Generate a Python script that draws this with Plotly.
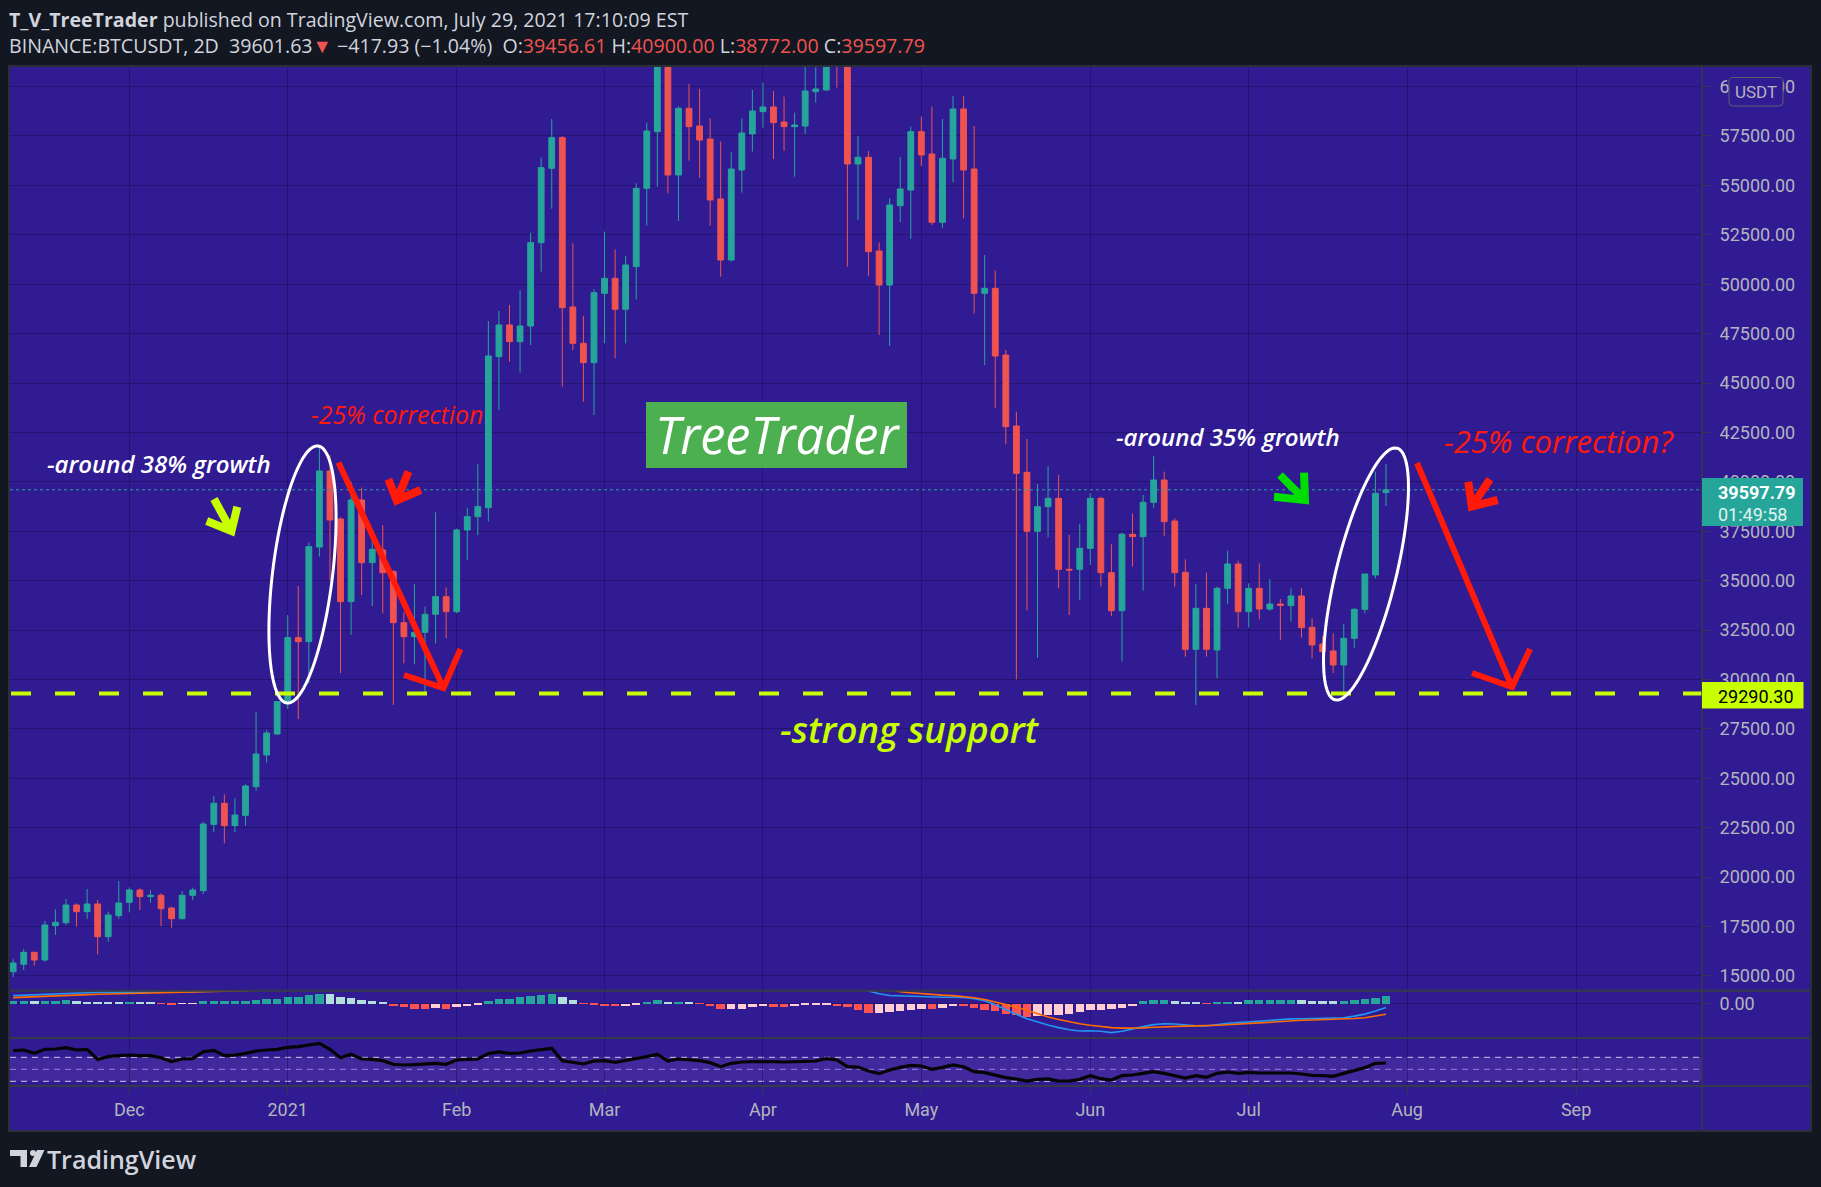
import math
import pandas as pd
import plotly.graph_objects as go

# ------------------------------------------------------------------ data
bar_start = "2020-11-10"          # first 2D bar shown
bar_step = "2D"

opens = [15215, 15586, 16193, 15805, 17543, 17695, 18588, 18251, 18639, 16986,
         18048, 18723, 19348, 19010, 19078, 18436, 17897, 19078, 19314, 22670,
         23733, 22603, 23126, 24576, 26179, 27241, 28844, 32116, 31914, 36700,
         40549, 38120, 33938, 39082, 35911, 36552, 35456, 32875, 32167, 32386,
         33297, 34190, 33432, 37564, 38239, 38694, 46334, 47937, 47094, 47886,
         52103, 55864, 57416, 48848, 47010, 46031, 49539, 50298, 48730, 50889,
         54852, 57720, 61200, 55527, 58900, 58006, 57348, 54312, 51226, 55780,
         57602, 58731, 58967, 58208, 57973, 58006, 59744, 59828, 63100, 61400,
         56084, 56421, 51681, 49961, 53970, 54768, 57720, 56590, 53132, 56337,
         58866, 55831, 49539, 49792, 46418, 42826, 40482, 37500, 38744, 39166,
         35573, 35573, 36636, 39166, 35405, 33482, 37345, 37227, 38964, 40094,
         38019, 35422, 31526, 33600, 31492, 34612, 35843, 33431, 34612, 33566,
         33819, 33735, 34224, 32639, 31796, 31441, 30733, 32082, 33549, 35287,
         39456.61]
highs = [15842, 16362, 16230, 17779, 18369, 18892, 18672, 19398, 18841, 18251,
         19803, 19482, 19432, 19348, 19179, 18500, 19297, 19466, 22805, 24104,
         24188, 23986, 24694, 28355, 27443, 28911, 33263, 34730, 36924, 41780,
         41358, 38200, 40009, 39706, 37395, 37817, 35540, 33398, 34815, 33684,
         38458, 34663, 37648, 38694, 40886, 48139, 48646, 48949, 49708, 52609,
         56404, 58361, 57500, 52069, 48392, 49742, 52660, 51765, 51428, 55105,
         58174, 61800, 61700, 59000, 60132, 59878, 58394, 57213, 56674, 58394,
         59828, 60199, 59777, 59490, 58681, 60975, 60975, 64854, 63800, 62500,
         57500, 56741, 52120, 54346, 56438, 57973, 58479, 58985, 58360, 59524,
         59524, 58006, 51479, 50686, 46672, 43551, 42168, 39890, 40802, 40347,
         37311, 37868, 39419, 39250, 36839, 37429, 38407, 39335, 41308, 40516,
         38154, 36080, 34831, 35405, 34696, 36518, 36012, 34865, 35877, 35067,
         34072, 34612, 34612, 33094, 32200, 32335, 32807, 33600, 35337, 40516,
         40900.00]
lows = [14946, 15300, 15519, 15721, 17071, 17577, 17493, 17881, 16092, 16733,
        17881, 18217, 18335, 18706, 17526, 17442, 17850, 18841, 19145, 22265,
        21709, 22265, 22603, 24374, 25790, 27191, 28507, 27999, 29805, 36215,
        35034, 30311, 32251, 34275, 33718, 33347, 28709, 30817, 30766, 29215,
        31829, 32082, 33347, 36046, 37300, 37990, 43636, 46081, 45525, 46925,
        50636, 53823, 44816, 46672, 44057, 43383, 47009, 46250, 47009, 49236,
        52963, 54937, 54599, 53199, 56252, 55392, 52963, 50382, 51142, 54633,
        56708, 57922, 56336, 56758, 55443, 57618, 59187, 59794, 59946, 50888,
        53250, 50416, 47430, 46874, 53149, 52289, 55983, 52997, 52862, 55156,
        53334, 48527, 45913, 43720, 41898, 30000, 33500, 31100, 37200, 34612,
        33263, 34022, 35793, 34696, 33212, 30901, 35708, 34494, 38660, 37260,
        34696, 31154, 28709, 31154, 30058, 33820, 32622, 32622, 33043, 33465,
        32010, 32926, 32116, 31070, 30901, 30311, 29299, 31610, 33347, 35118,
        38772.00]
closes = [15654, 16193, 15805, 17577, 17712, 18588, 18251, 18639, 16986, 18082,
          18690, 19348, 19010, 19078, 18403, 17897, 19078, 19348, 22687, 23733,
          22603, 23143, 24610, 26229, 27292, 28877, 32116, 31914, 36721, 40549,
          38070, 33938, 39082, 35911, 36586, 35405, 32875, 32167, 32386, 33297,
          34190, 33432, 37564, 38239, 38745, 46368, 47937, 47094, 47886, 52103,
          55898, 57416, 48814, 47010, 46031, 49573, 50298, 48730, 50973, 54852,
          57753, 61200, 55527, 58900, 57973, 57298, 54262, 51226, 55830, 57652,
          58765, 58967, 58175, 57973, 58057, 59777, 59878, 63100, 61400, 56084,
          56421, 51647, 49961, 54009, 54818, 57720, 56539, 53132, 56370, 58866,
          55780, 49539, 49792, 46368, 42792, 40431, 37500, 38744, 39166, 35573,
          35540, 36636, 39166, 35405, 33482, 37345, 37227, 38964, 40094, 37986,
          35405, 31526, 33600, 31526, 34612, 35843, 33431, 34612, 33566, 33819,
          33752, 34224, 32622, 31745, 31407, 30733, 32082, 33549, 35337, 39419,
          39597.79]

macd_hist = [250,
             267, 250, 267, 280, 400, 233, 200, 167, 160, 150,
             200, 190, 160, -30, -50, -30, -10, 233, 267, 270,
             275, 280, 333, 433, 440, 667, 670, 833, 933, 920,
             667, 600, 400, 267, 133, -233, -333, -500, -567, -433,
             -567, -333, -233, -100, 233, 500, 510, 667, 767, 833,
             933, 667, 333, -30, -133, -233, -240, -200, -133, 200,
             333, 200, 210, 100, -30, -233, -567, -500, -490, -333,
             -233, -333, -340, -233, -167, -160, -100, -233, -333, -667,
             -933, -920, -833,
             -733, -600, -500, -567, -433, -233, -240, -433, -600, -767,
             -1000, -1167, -1333, -1233, -1167, -1100, -1000, -833, -667, -660,
             -567, -433, -233, 267, 333, 340, 233, 100, 90, -20,
             100, 200, 190, 333, 335, 340, 345, 350, 330, 233,
             230, 225, 267, 333, 433, 600, 733]

macd_line = ([770, 800, 830, 860, 900, 950, 1000, 1050, 1100, 1130,
              1140, 1130, 1110, 1100, 1100, 1110, 1130, 1150, 1170, 1190,
              1200, 1220, 1250, 1300, 1500]
             + [None] * 55
             + [1500, 1200, 950, 780,
                733, 690, 650, 610, 600, 600, 580, 450, 250, -150,
                -650, -1100, -1550, -1900, -2180, -2430, -2650, -2770, -2740, -2800,
                -2930, -2800, -2550, -2330, -2130, -2050, -2070, -2170, -2240, -2270,
                -2130, -2000, -1930, -1850, -1780, -1670, -1580, -1560, -1550, -1530,
                -1520, -1510, -1450, -1280, -1080, -780, -430])
signal_line = ([567, 600, 640, 680, 733, 780, 820, 870, 910, 933,
                950, 970, 990, 1000, 1010, 1030, 1060, 1090, 1120, 1170,
                1200, 1230, 1267, 1300, 1500]
               + [None] * 58
               + [1400,
                  1167, 1050, 950, 880, 820, 770, 700, 560, 380, 150,
                  -100, -380, -700, -1050, -1370, -1620, -1850, -2050, -2200, -2330,
                  -2430, -2480, -2500, -2460, -2400, -2340, -2300, -2280, -2260, -2250,
                  -2200, -2150, -2080, -2010, -1930, -1850, -1780, -1740, -1700, -1670,
                  -1640, -1600, -1570, -1520, -1440, -1300, -1100])

rsi = [81.1,
       82.2, 76.6, 83.3, 83.9, 86.1, 82.2, 83.3, 66.6, 71.1, 72.8,
       73.9, 72.8, 72.8, 69.4, 62.8, 67.2, 67.8, 79.4, 81.6, 72.8,
       73.9, 76.6, 80.5, 82.2, 83.3, 86.6, 87.8, 90.5, 93.3, 83.3,
       69.4, 75.0, 67.2, 66.6, 64.4, 58.3, 57.2, 57.8, 58.9, 60.0,
       58.3, 65.5, 66.6, 67.2, 76.1, 78.9, 76.6, 77.2, 80.5, 83.3,
       85.0, 64.4, 61.1, 58.9, 63.9, 64.4, 61.6, 64.4, 68.3, 71.1,
       75.0, 63.9, 67.2, 65.5, 64.4, 61.1, 54.4, 60.0, 62.2, 62.8,
       63.3, 62.8, 62.2, 62.2, 63.3, 63.9, 67.8, 65.5, 54.4, 53.9,
       47.2, 42.8, 48.9,
       53.3, 56.6, 55.5, 50.0, 53.3, 57.2, 54.4, 46.1, 44.4, 40.5,
       36.1, 33.9, 30.5, 33.3, 33.9, 30.5, 30.5, 33.3, 39.4, 34.4,
       32.2, 39.4, 40.5, 43.3, 46.1, 43.3, 39.4, 35.5, 39.4, 36.6,
       43.3, 45.5, 43.3, 45.0, 43.9, 43.9, 43.3, 43.9, 42.2, 40.0,
       39.4, 38.3, 43.3, 47.8, 52.8, 60.0, 60.5]
rsi_levels = [70, 50, 30]

month_ticks = ["2020-12-02", "2021-01-01", "2021-02-02", "2021-03-02", "2021-04-01",
               "2021-05-01", "2021-06-02", "2021-07-02", "2021-08-01", "2021-09-02"]
month_labels = ["Dec", "2021", "Feb", "Mar", "Apr", "May", "Jun", "Jul", "Aug", "Sep"]

support_level = 29290.30
last_price = 39597.79
countdown = "01:49:58"

# ------------------------------------------------------------------ layout constants
W, H = 1821, 1187
PL, PR, PT, PB = 10, 1702, 67, 1086
MAIN_BOTTOM, MACD_BOTTOM = 990.7, 1038

BG = "#311b92"
PAGE = "#131722"
UP, DOWN = "#26a69a", "#ef5350"
GRID = "rgba(18,8,60,0.38)"
AXIS_TXT = "#b2b5be"
DIV = "#363a48"
YEL = "#c8ff00"
RED_DRAW = "#ff1a0a"
WHITE = "#ffffff"


def PX(x):
    return (x - PL) / (PR - PL)


def PY(y):
    return (PB - y) / (PB - PT)


def pt(x, y):
    return f"{PX(x):.5f},{PY(y):.5f}"


dates = pd.date_range(bar_start, periods=len(opens), freq=bar_step)

hist_colors = []
prev = None
for v in macd_hist:
    if v >= 0:
        hist_colors.append("#26a69a" if (prev is None or v >= prev) else "#b2dfdb")
    else:
        hist_colors.append("#ff5252" if (prev is not None and v < prev) else "#ffcdd2")
    prev = v

fig = go.Figure()
fig.add_trace(go.Candlestick(
    x=dates, open=opens, high=highs, low=lows, close=closes,
    xaxis="x", yaxis="y", whiskerwidth=0,
    increasing=dict(line=dict(color=UP, width=1), fillcolor=UP),
    decreasing=dict(line=dict(color=DOWN, width=1), fillcolor=DOWN),
    hoverinfo="skip", showlegend=False))
fig.add_trace(go.Bar(
    x=dates, y=macd_hist, marker=dict(color=hist_colors, line=dict(width=0)),
    width=0.8 * 2 * 86400000, xaxis="x", yaxis="y2", hoverinfo="skip", showlegend=False))
fig.add_trace(go.Scatter(
    x=dates, y=macd_line, mode="lines", line=dict(color="#2196f3", width=1.6),
    connectgaps=False, xaxis="x", yaxis="y2", hoverinfo="skip", showlegend=False))
fig.add_trace(go.Scatter(
    x=dates, y=signal_line, mode="lines", line=dict(color="#ff6d00", width=1.6),
    connectgaps=False, xaxis="x", yaxis="y2", hoverinfo="skip", showlegend=False))
fig.add_trace(go.Scatter(
    x=dates, y=rsi, mode="lines", line=dict(color="#050505", width=3.2),
    xaxis="x", yaxis="y3", hoverinfo="skip", showlegend=False))

shapes = []
# purple panel behind axes
shapes.append(dict(type="rect", xref="paper", yref="paper", x0=PX(9), x1=PX(1811),
                   y0=PY(1131), y1=PY(66), fillcolor=BG, line=dict(width=0), layer="below"))
# RSI band
shapes.append(dict(type="rect", xref="paper", yref="y3", x0=0, x1=1, y0=rsi_levels[2], y1=rsi_levels[0],
                   fillcolor="rgba(126,87,194,0.22)", line=dict(width=0), layer="below"))
for lv, col in zip(rsi_levels, ["rgba(215,215,235,0.9)", "rgba(160,140,225,0.9)", "rgba(215,215,235,0.9)"]):
    shapes.append(dict(type="line", xref="paper", yref="y3", x0=0, x1=1, y0=lv, y1=lv,
                       line=dict(color=col, width=1, dash="6px,5px"), layer="below"))
# last price dotted line
shapes.append(dict(type="line", xref="paper", yref="y", x0=0, x1=1, y0=last_price, y1=last_price,
                   line=dict(color=UP, width=1, dash="dot"), layer="above"))
# support line
shapes.append(dict(type="line", xref="paper", yref="y", x0=PX(11), x1=1, y0=support_level, y1=support_level,
                   line=dict(color=YEL, width=4, dash="20px,24px"), layer="above"))


def ellipse_path(cx, cy, a, b, tilt_deg):
    th = math.radians(tilt_deg)
    ux, uy = math.sin(th), -math.cos(th)
    vx, vy = math.cos(th), math.sin(th)
    pts = []
    for i in range(96):
        t = 2 * math.pi * i / 96
        pts.append(pt(cx + a * math.cos(t) * ux + b * math.sin(t) * vx,
                      cy + a * math.cos(t) * uy + b * math.sin(t) * vy))
    return "M " + " L ".join(pts) + " Z"


shapes.append(dict(type="path", xref="paper", yref="paper", path=ellipse_path(302.5, 574.5, 129.5, 30, 6.9),
                   line=dict(color=WHITE, width=3), layer="above"))
shapes.append(dict(type="path", xref="paper", yref="paper", path=ellipse_path(1366, 574, 129.6, 30, 13.8),
                   line=dict(color=WHITE, width=3), layer="above"))


def arrow(start, tip, h1, h2, color, width):
    p = f"M {pt(*start)} L {pt(*tip)} M {pt(*h1)} L {pt(*tip)} L {pt(*h2)}"
    return dict(type="path", xref="paper", yref="paper", path=p,
                line=dict(color=color, width=width), layer="above")


shapes.append(arrow((338.5, 462.5), (443.5, 688), (404, 675), (460.5, 649), RED_DRAW, 6))
shapes.append(arrow((1417, 463), (1512, 687), (1472, 673), (1530, 649), RED_DRAW, 6))
shapes.append(arrow((408.5, 471.5), (396.7, 500.5), (388.3, 479.3), (420.7, 490), RED_DRAW, 8))
shapes.append(arrow((1490, 479.3), (1471.7, 506.5), (1468.3, 481.7), (1497.7, 500), RED_DRAW, 8))
shapes.append(arrow((1280, 475), (1305, 500), (1274, 496.7), (1304, 472.7), "#00dd00", 8))
shapes.append(arrow((214, 499), (231.5, 531), (206.7, 521), (237.3, 506.7), YEL, 8))

# TreeTrader box
shapes.append(dict(type="rect", xref="paper", yref="paper", x0=PX(646), x1=PX(907), y0=PY(468), y1=PY(402),
                   fillcolor="#4caf50", line=dict(width=0), layer="above"))

# pane dividers, axis separator, border
for yy in (MAIN_BOTTOM, MACD_BOTTOM, PB):
    shapes.append(dict(type="line", xref="paper", yref="paper", x0=PX(10), x1=PX(1810), y0=PY(yy), y1=PY(yy),
                       line=dict(color=DIV, width=2), layer="above"))
shapes.append(dict(type="line", xref="paper", yref="paper", x0=PX(1702), x1=PX(1702), y0=PY(1130), y1=PY(66),
                   line=dict(color=DIV, width=1.5), layer="above"))
shapes.append(dict(type="rect", xref="paper", yref="paper", x0=PX(9), x1=PX(1811), y0=PY(1131), y1=PY(66),
                   line=dict(color="#2a2e39", width=2), layer="above"))

# price labels on the axis
shapes.append(dict(type="rect", xref="paper", yref="paper", x0=PX(1702), x1=PX(1803), y0=PY(526), y1=PY(478),
                   fillcolor=UP, line=dict(width=0), layer="above"))
shapes.append(dict(type="rect", xref="paper", yref="paper", x0=PX(1702), x1=PX(1803.5), y0=PY(708.6), y1=PY(682),
                   fillcolor=YEL, line=dict(width=0), layer="above"))
# USDT box (rounded)
ux0, ux1, uy0, uy1, r = 1729, 1783, 77.5, 106, 4
usdt_path = (f"M {pt(ux0 + r, uy0)} L {pt(ux1 - r, uy0)} Q {pt(ux1, uy0)} {pt(ux1, uy0 + r)} "
             f"L {pt(ux1, uy1 - r)} Q {pt(ux1, uy1)} {pt(ux1 - r, uy1)} L {pt(ux0 + r, uy1)} "
             f"Q {pt(ux0, uy1)} {pt(ux0, uy1 - r)} L {pt(ux0, uy0 + r)} Q {pt(ux0, uy0)} {pt(ux0 + r, uy0)} Z")
shapes.append(dict(type="path", xref="paper", yref="paper", path=usdt_path, fillcolor=BG,
                   line=dict(color="#5d606b", width=1), layer="above"))

# TradingView logo
LOGO = "#d1d4dc"
shapes.append(dict(type="rect", xref="paper", yref="paper", x0=PX(10), x1=PX(27), y0=PY(1156), y1=PY(1150),
                   fillcolor=LOGO, line=dict(width=0), layer="above"))
shapes.append(dict(type="rect", xref="paper", yref="paper", x0=PX(20.5), x1=PX(27), y0=PY(1167), y1=PY(1150),
                   fillcolor=LOGO, line=dict(width=0), layer="above"))
shapes.append(dict(type="circle", xref="paper", yref="paper", x0=PX(30), x1=PX(36), y0=PY(1156), y1=PY(1150),
                   fillcolor=LOGO, line=dict(width=0), layer="above"))
shapes.append(dict(type="path", xref="paper", yref="paper",
                   path=f"M {pt(29, 1167)} L {pt(36.5, 1167)} L {pt(44.5, 1150)} L {pt(37, 1150)} Z",
                   fillcolor=LOGO, line=dict(width=0), layer="above"))

annotations = []


def note(x, y, text, size, color, xanchor="left", family="Open Sans", italic=False, weight=None):
    f = dict(family=family, size=size, color=color)
    if italic:
        f["style"] = "italic"
    if weight:
        f["weight"] = weight
    annotations.append(dict(xref="paper", yref="paper", x=PX(x), y=PY(y), text=text, showarrow=False,
                            xanchor=xanchor, yanchor="middle", font=f, align="left"))


R = "<span style='color:#ef5350'>"
note(7, 19.5, "<b>T_V_TreeTrader</b> published on TradingView.com, July 29, 2021 17:10:09 EST",
     19.6, "#d1d4dc", family="Open Sans")
note(7, 45.5, "BINANCE:BTCUSDT, 2D\u00a0\u00a039601.63" + R + "\u25bc</span>\u00a0\u2212417.93 (\u22121.04%)\u00a0 O:" + R +
     "39456.61</span>\u00a0H:" + R + "40900.00</span>\u00a0L:" + R + "38772.00</span>\u00a0C:" + R + "39597.79</span>",
     19.6, "#d1d4dc", family="Open Sans")

note(45, 463.5, "-around 38% growth", 24, WHITE, italic=True, weight=600)
note(1114, 436.5, "-around 35% growth", 24, WHITE, italic=True, weight=600)
note(309, 414, "-25% correction", 24.8, RED_DRAW, italic=True)
note(1442, 441, "-25% correction?", 31, RED_DRAW, italic=True)
note(777, 434, "TreeTrader", 50.5, WHITE, xanchor="center", italic=True, weight=500)
note(778, 728.5, "-strong support", 36.5, YEL, italic=True, weight=600)

note(1716, 493, f"<b>{last_price:.2f}</b>", 18, WHITE, family="Roboto")
note(1716, 514, countdown, 18, "#e0f2f1", family="Roboto")
note(1716, 696, f"{support_level:.2f}", 18, "#000000", family="Roboto")
note(1756, 92, "USDT", 17, AXIS_TXT, xanchor="center", family="Roboto")
note(45, 1158.5, "TradingView", 25, LOGO, weight=600)

x_start = "2020-11-09 09:36"
x_end = "2021-09-25 20:24"

axis_font = dict(family="Roboto", size=18, color=AXIS_TXT)
fig.update_layout(
    width=W, height=H,
    margin=dict(l=PL, r=W - PR, t=PT, b=H - PB, pad=0),
    paper_bgcolor=PAGE, plot_bgcolor=BG,
    showlegend=False, hovermode=False,
    boxgap=0.39, boxgroupgap=0.1, bargap=0,
    xaxis=dict(domain=[0, 1], anchor="y3", type="date", range=[x_start, x_end],
               tickmode="array", tickvals=month_ticks, ticktext=month_labels,
               ticks="outside", ticklen=7, tickcolor=DIV, tickfont=axis_font,
               showgrid=True, gridcolor=GRID, gridwidth=1, zeroline=False, showline=False,
               rangeslider=dict(visible=False), fixedrange=True),
    yaxis=dict(domain=[PY(MAIN_BOTTOM), 1], anchor="x", side="right", range=[14252, 60991],
               tick0=0, dtick=2500, tickformat=".2f", ticks="outside", ticklen=7, tickcolor=DIV,
               tickfont=axis_font, showgrid=True, gridcolor=GRID, zeroline=False, showline=False,
               ticklabelstandoff=6, fixedrange=True),
    yaxis2=dict(domain=[PY(MACD_BOTTOM), PY(MAIN_BOTTOM)], anchor="x", side="right", range=[-3470, 1260],
                tickmode="array", tickvals=[0], ticktext=["0.00"], ticks="outside", ticklen=7, tickcolor=DIV,
                tickfont=axis_font, showgrid=True, gridcolor=GRID, zeroline=False, showline=False,
                ticklabelstandoff=6, fixedrange=True),
    yaxis3=dict(domain=[0, PY(MACD_BOTTOM)], anchor="x", side="right", range=[22.2, 102.2],
                showticklabels=False, showgrid=False, zeroline=False, ticks="", fixedrange=True),
    shapes=shapes, annotations=annotations,
)

fig.write_html("out.html", config={"displayModeBar": False},
               post_script="document.body.style.margin='0';document.body.style.padding='0';"
                           "document.documentElement.style.overflow='hidden';"
                           "document.body.style.background='#131722';")
